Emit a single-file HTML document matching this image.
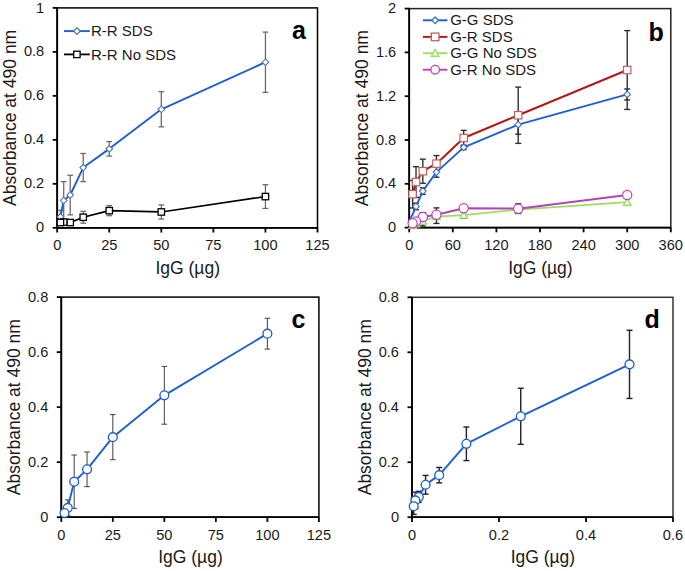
<!DOCTYPE html>
<html><head><meta charset="utf-8"><style>
html,body{margin:0;padding:0;background:#fff;}
body{width:685px;height:571px;overflow:hidden;}
svg{display:block;}
</style></head><body>
<svg width="685" height="571" viewBox="0 0 685 571">
<rect width="685" height="571" fill="#fff"/>
<g font-family='"Liberation Sans", sans-serif' fill="#1a1a1a">
<rect x="57.20" y="7.90" width="260.30" height="219.90" fill="none" stroke="#000" stroke-width="1.5"/>
<line x1="57.20" y1="7.90" x2="57.20" y2="228.70" stroke="#000" stroke-width="1.8"/>
<line x1="56.30" y1="227.80" x2="317.50" y2="227.80" stroke="#000" stroke-width="1.8"/>
<line x1="57.20" y1="227.80" x2="57.20" y2="232.50" stroke="#000" stroke-width="1.8"/>
<line x1="109.26" y1="227.80" x2="109.26" y2="232.50" stroke="#000" stroke-width="1.8"/>
<line x1="161.32" y1="227.80" x2="161.32" y2="232.50" stroke="#000" stroke-width="1.8"/>
<line x1="213.38" y1="227.80" x2="213.38" y2="232.50" stroke="#000" stroke-width="1.8"/>
<line x1="265.44" y1="227.80" x2="265.44" y2="232.50" stroke="#000" stroke-width="1.8"/>
<line x1="317.50" y1="227.80" x2="317.50" y2="232.50" stroke="#000" stroke-width="1.8"/>
<line x1="52.70" y1="227.80" x2="57.20" y2="227.80" stroke="#000" stroke-width="1.8"/>
<line x1="52.70" y1="183.82" x2="57.20" y2="183.82" stroke="#000" stroke-width="1.8"/>
<line x1="52.70" y1="139.84" x2="57.20" y2="139.84" stroke="#000" stroke-width="1.8"/>
<line x1="52.70" y1="95.86" x2="57.20" y2="95.86" stroke="#000" stroke-width="1.8"/>
<line x1="52.70" y1="51.88" x2="57.20" y2="51.88" stroke="#000" stroke-width="1.8"/>
<line x1="52.70" y1="7.90" x2="57.20" y2="7.90" stroke="#000" stroke-width="1.8"/>
<text x="57.20" y="250.30" text-anchor="middle" font-size="14.6">0</text>
<text x="109.26" y="250.30" text-anchor="middle" font-size="14.6">25</text>
<text x="161.32" y="250.30" text-anchor="middle" font-size="14.6">50</text>
<text x="213.38" y="250.30" text-anchor="middle" font-size="14.6">75</text>
<text x="265.44" y="250.30" text-anchor="middle" font-size="14.6">100</text>
<text x="317.50" y="250.30" text-anchor="middle" font-size="14.6">125</text>
<text x="44.20" y="232.40" text-anchor="end" font-size="14.6">0</text>
<text x="44.20" y="188.42" text-anchor="end" font-size="14.6">0.2</text>
<text x="44.20" y="144.44" text-anchor="end" font-size="14.6">0.4</text>
<text x="44.20" y="100.46" text-anchor="end" font-size="14.6">0.6</text>
<text x="44.20" y="56.48" text-anchor="end" font-size="14.6">0.8</text>
<text x="44.20" y="12.50" text-anchor="end" font-size="14.6">1</text>
<text x="187.75" y="273.80" text-anchor="middle" font-size="17.5">IgG (µg)</text>
<text transform="translate(16.20,117.85) rotate(-90)" x="0" y="0" text-anchor="middle" font-size="17.5">Absorbance at 490 nm</text>
<line x1="60.45" y1="210.21" x2="60.45" y2="223.40" stroke="#686868" stroke-width="1.25"/>
<line x1="57.55" y1="210.21" x2="63.35" y2="210.21" stroke="#686868" stroke-width="1.25"/>
<line x1="57.55" y1="223.40" x2="63.35" y2="223.40" stroke="#686868" stroke-width="1.25"/>
<line x1="63.71" y1="181.62" x2="63.71" y2="219.44" stroke="#686868" stroke-width="1.25"/>
<line x1="60.81" y1="181.62" x2="66.61" y2="181.62" stroke="#686868" stroke-width="1.25"/>
<line x1="60.81" y1="219.44" x2="66.61" y2="219.44" stroke="#686868" stroke-width="1.25"/>
<line x1="70.22" y1="175.24" x2="70.22" y2="214.83" stroke="#686868" stroke-width="1.25"/>
<line x1="67.31" y1="175.24" x2="73.12" y2="175.24" stroke="#686868" stroke-width="1.25"/>
<line x1="67.31" y1="214.83" x2="73.12" y2="214.83" stroke="#686868" stroke-width="1.25"/>
<line x1="83.23" y1="153.47" x2="83.23" y2="181.62" stroke="#686868" stroke-width="1.25"/>
<line x1="80.33" y1="153.47" x2="86.13" y2="153.47" stroke="#686868" stroke-width="1.25"/>
<line x1="80.33" y1="181.62" x2="86.13" y2="181.62" stroke="#686868" stroke-width="1.25"/>
<line x1="109.26" y1="141.60" x2="109.26" y2="156.11" stroke="#686868" stroke-width="1.25"/>
<line x1="106.36" y1="141.60" x2="112.16" y2="141.60" stroke="#686868" stroke-width="1.25"/>
<line x1="106.36" y1="156.11" x2="112.16" y2="156.11" stroke="#686868" stroke-width="1.25"/>
<line x1="161.32" y1="91.68" x2="161.32" y2="126.87" stroke="#686868" stroke-width="1.25"/>
<line x1="158.42" y1="91.68" x2="164.22" y2="91.68" stroke="#686868" stroke-width="1.25"/>
<line x1="158.42" y1="126.87" x2="164.22" y2="126.87" stroke="#686868" stroke-width="1.25"/>
<line x1="265.44" y1="32.09" x2="265.44" y2="92.34" stroke="#686868" stroke-width="1.25"/>
<line x1="262.54" y1="32.09" x2="268.34" y2="32.09" stroke="#686868" stroke-width="1.25"/>
<line x1="262.54" y1="92.34" x2="268.34" y2="92.34" stroke="#686868" stroke-width="1.25"/>
<line x1="83.23" y1="211.31" x2="83.23" y2="223.18" stroke="#686868" stroke-width="1.25"/>
<line x1="80.33" y1="211.31" x2="86.13" y2="211.31" stroke="#686868" stroke-width="1.25"/>
<line x1="80.33" y1="223.18" x2="86.13" y2="223.18" stroke="#686868" stroke-width="1.25"/>
<line x1="109.26" y1="205.59" x2="109.26" y2="215.71" stroke="#686868" stroke-width="1.25"/>
<line x1="106.36" y1="205.59" x2="112.16" y2="205.59" stroke="#686868" stroke-width="1.25"/>
<line x1="106.36" y1="215.71" x2="112.16" y2="215.71" stroke="#686868" stroke-width="1.25"/>
<line x1="161.32" y1="204.93" x2="161.32" y2="219.00" stroke="#686868" stroke-width="1.25"/>
<line x1="158.42" y1="204.93" x2="164.22" y2="204.93" stroke="#686868" stroke-width="1.25"/>
<line x1="158.42" y1="219.00" x2="164.22" y2="219.00" stroke="#686868" stroke-width="1.25"/>
<line x1="265.44" y1="184.70" x2="265.44" y2="208.45" stroke="#686868" stroke-width="1.25"/>
<line x1="262.54" y1="184.70" x2="268.34" y2="184.70" stroke="#686868" stroke-width="1.25"/>
<line x1="262.54" y1="208.45" x2="268.34" y2="208.45" stroke="#686868" stroke-width="1.25"/>
<polyline points="58.82,223.40 60.45,216.81 63.71,200.53 70.22,195.03 83.23,167.55 109.26,148.86 161.32,109.27 265.44,62.22" fill="none" stroke="#1d5fd0" stroke-width="1.9" stroke-linejoin="round"/>
<polyline points="58.82,223.40 60.45,222.52 63.71,222.08 70.22,222.52 83.23,217.24 109.26,210.65 161.32,211.97 265.44,196.57" fill="none" stroke="#000" stroke-width="1.7" stroke-linejoin="round"/>
<path d="M265.44,58.92 L268.74,62.22 L265.44,65.52 L262.14,62.22Z" fill="#fff" stroke="#5a7298" stroke-width="1.1"/>
<path d="M161.32,105.97 L164.62,109.27 L161.32,112.57 L158.02,109.27Z" fill="#fff" stroke="#5a7298" stroke-width="1.1"/>
<path d="M109.26,145.56 L112.56,148.86 L109.26,152.16 L105.96,148.86Z" fill="#fff" stroke="#5a7298" stroke-width="1.1"/>
<path d="M83.23,164.25 L86.53,167.55 L83.23,170.85 L79.93,167.55Z" fill="#fff" stroke="#5a7298" stroke-width="1.1"/>
<path d="M70.22,191.73 L73.52,195.03 L70.22,198.33 L66.92,195.03Z" fill="#fff" stroke="#5a7298" stroke-width="1.1"/>
<path d="M63.71,197.23 L67.01,200.53 L63.71,203.83 L60.41,200.53Z" fill="#fff" stroke="#5a7298" stroke-width="1.1"/>
<path d="M60.45,213.50 L63.75,216.81 L60.45,220.11 L57.15,216.81Z" fill="#fff" stroke="#5a7298" stroke-width="1.1"/>
<rect x="262.24" y="193.37" width="6.40" height="6.40" fill="#fff" stroke="#000" stroke-width="1.3"/>
<rect x="158.12" y="208.77" width="6.40" height="6.40" fill="#fff" stroke="#000" stroke-width="1.3"/>
<rect x="106.06" y="207.45" width="6.40" height="6.40" fill="#fff" stroke="#000" stroke-width="1.3"/>
<rect x="80.03" y="214.04" width="6.40" height="6.40" fill="#fff" stroke="#000" stroke-width="1.3"/>
<rect x="67.02" y="219.32" width="6.40" height="6.40" fill="#fff" stroke="#000" stroke-width="1.3"/>
<rect x="60.51" y="218.88" width="6.40" height="6.40" fill="#fff" stroke="#000" stroke-width="1.3"/>
<rect x="57.25" y="219.32" width="6.40" height="6.40" fill="#fff" stroke="#000" stroke-width="1.3"/>
<line x1="64" y1="31.1" x2="89.8" y2="31.1" stroke="#1d5fd0" stroke-width="1.9"/>
<path d="M76.90,27.80 L80.20,31.10 L76.90,34.40 L73.60,31.10Z" fill="#fff" stroke="#5a7298" stroke-width="1.3"/>
<text x="91" y="36.40" font-size="15">R-R SDS</text>
<line x1="64" y1="54.4" x2="89.8" y2="54.4" stroke="#000" stroke-width="1.8"/>
<rect x="73.70" y="51.20" width="6.40" height="6.40" fill="#fff" stroke="#000" stroke-width="1.3"/>
<text x="91" y="59.70" font-size="15">R-R No SDS</text>
<text x="292" y="38.6" font-size="25" font-weight="bold" fill="#000">a</text>
<rect x="409.20" y="8.60" width="261.60" height="219.00" fill="none" stroke="#222" stroke-width="1.5"/>
<line x1="409.20" y1="8.60" x2="409.20" y2="228.50" stroke="#000" stroke-width="1.8"/>
<line x1="408.30" y1="227.60" x2="670.80" y2="227.60" stroke="#000" stroke-width="1.8"/>
<line x1="409.20" y1="227.60" x2="409.20" y2="232.30" stroke="#000" stroke-width="1.8"/>
<line x1="452.80" y1="227.60" x2="452.80" y2="232.30" stroke="#000" stroke-width="1.8"/>
<line x1="496.40" y1="227.60" x2="496.40" y2="232.30" stroke="#000" stroke-width="1.8"/>
<line x1="540.00" y1="227.60" x2="540.00" y2="232.30" stroke="#000" stroke-width="1.8"/>
<line x1="583.60" y1="227.60" x2="583.60" y2="232.30" stroke="#000" stroke-width="1.8"/>
<line x1="627.20" y1="227.60" x2="627.20" y2="232.30" stroke="#000" stroke-width="1.8"/>
<line x1="670.80" y1="227.60" x2="670.80" y2="232.30" stroke="#000" stroke-width="1.8"/>
<line x1="404.70" y1="227.60" x2="409.20" y2="227.60" stroke="#000" stroke-width="1.8"/>
<line x1="404.70" y1="183.80" x2="409.20" y2="183.80" stroke="#000" stroke-width="1.8"/>
<line x1="404.70" y1="140.00" x2="409.20" y2="140.00" stroke="#000" stroke-width="1.8"/>
<line x1="404.70" y1="96.20" x2="409.20" y2="96.20" stroke="#000" stroke-width="1.8"/>
<line x1="404.70" y1="52.40" x2="409.20" y2="52.40" stroke="#000" stroke-width="1.8"/>
<line x1="404.70" y1="8.60" x2="409.20" y2="8.60" stroke="#000" stroke-width="1.8"/>
<text x="409.20" y="250.10" text-anchor="middle" font-size="14.6">0</text>
<text x="452.80" y="250.10" text-anchor="middle" font-size="14.6">60</text>
<text x="496.40" y="250.10" text-anchor="middle" font-size="14.6">120</text>
<text x="540.00" y="250.10" text-anchor="middle" font-size="14.6">180</text>
<text x="583.60" y="250.10" text-anchor="middle" font-size="14.6">240</text>
<text x="627.20" y="250.10" text-anchor="middle" font-size="14.6">300</text>
<text x="670.80" y="250.10" text-anchor="middle" font-size="14.6">360</text>
<text x="396.20" y="232.20" text-anchor="end" font-size="14.6">0</text>
<text x="396.20" y="188.40" text-anchor="end" font-size="14.6">0.4</text>
<text x="396.20" y="144.60" text-anchor="end" font-size="14.6">0.8</text>
<text x="396.20" y="100.80" text-anchor="end" font-size="14.6">1.2</text>
<text x="396.20" y="57.00" text-anchor="end" font-size="14.6">1.6</text>
<text x="396.20" y="13.20" text-anchor="end" font-size="14.6">2</text>
<text x="540.40" y="273.60" text-anchor="middle" font-size="17.5">IgG (µg)</text>
<text transform="translate(368.20,118.10) rotate(-90)" x="0" y="0" text-anchor="middle" font-size="17.5">Absorbance at 490 nm</text>
<line x1="416.01" y1="203.18" x2="416.01" y2="209.75" stroke="#2a2a2a" stroke-width="1.35"/>
<line x1="413.01" y1="203.18" x2="419.01" y2="203.18" stroke="#2a2a2a" stroke-width="1.35"/>
<line x1="413.01" y1="209.75" x2="419.01" y2="209.75" stroke="#2a2a2a" stroke-width="1.35"/>
<line x1="422.82" y1="187.74" x2="422.82" y2="194.31" stroke="#2a2a2a" stroke-width="1.35"/>
<line x1="419.82" y1="187.74" x2="425.82" y2="187.74" stroke="#2a2a2a" stroke-width="1.35"/>
<line x1="419.82" y1="194.31" x2="425.82" y2="194.31" stroke="#2a2a2a" stroke-width="1.35"/>
<line x1="436.45" y1="166.94" x2="436.45" y2="177.23" stroke="#2a2a2a" stroke-width="1.35"/>
<line x1="433.45" y1="166.94" x2="439.45" y2="166.94" stroke="#2a2a2a" stroke-width="1.35"/>
<line x1="433.45" y1="177.23" x2="439.45" y2="177.23" stroke="#2a2a2a" stroke-width="1.35"/>
<line x1="463.70" y1="145.15" x2="463.70" y2="149.53" stroke="#2a2a2a" stroke-width="1.35"/>
<line x1="460.70" y1="145.15" x2="466.70" y2="145.15" stroke="#2a2a2a" stroke-width="1.35"/>
<line x1="460.70" y1="149.53" x2="466.70" y2="149.53" stroke="#2a2a2a" stroke-width="1.35"/>
<line x1="518.20" y1="115.14" x2="518.20" y2="134.20" stroke="#2a2a2a" stroke-width="1.35"/>
<line x1="515.20" y1="115.14" x2="521.20" y2="115.14" stroke="#2a2a2a" stroke-width="1.35"/>
<line x1="515.20" y1="134.20" x2="521.20" y2="134.20" stroke="#2a2a2a" stroke-width="1.35"/>
<line x1="627.20" y1="88.97" x2="627.20" y2="99.92" stroke="#2a2a2a" stroke-width="1.35"/>
<line x1="624.20" y1="88.97" x2="630.20" y2="88.97" stroke="#2a2a2a" stroke-width="1.35"/>
<line x1="624.20" y1="99.92" x2="630.20" y2="99.92" stroke="#2a2a2a" stroke-width="1.35"/>
<line x1="412.61" y1="180.41" x2="412.61" y2="208.00" stroke="#2a2a2a" stroke-width="1.35"/>
<line x1="409.61" y1="180.41" x2="415.61" y2="180.41" stroke="#2a2a2a" stroke-width="1.35"/>
<line x1="409.61" y1="208.00" x2="415.61" y2="208.00" stroke="#2a2a2a" stroke-width="1.35"/>
<line x1="416.01" y1="166.72" x2="416.01" y2="197.38" stroke="#2a2a2a" stroke-width="1.35"/>
<line x1="413.01" y1="166.72" x2="419.01" y2="166.72" stroke="#2a2a2a" stroke-width="1.35"/>
<line x1="413.01" y1="197.38" x2="419.01" y2="197.38" stroke="#2a2a2a" stroke-width="1.35"/>
<line x1="422.82" y1="159.16" x2="422.82" y2="183.25" stroke="#2a2a2a" stroke-width="1.35"/>
<line x1="419.82" y1="159.16" x2="425.82" y2="159.16" stroke="#2a2a2a" stroke-width="1.35"/>
<line x1="419.82" y1="183.25" x2="425.82" y2="183.25" stroke="#2a2a2a" stroke-width="1.35"/>
<line x1="436.45" y1="155.55" x2="436.45" y2="171.75" stroke="#2a2a2a" stroke-width="1.35"/>
<line x1="433.45" y1="155.55" x2="439.45" y2="155.55" stroke="#2a2a2a" stroke-width="1.35"/>
<line x1="433.45" y1="171.75" x2="439.45" y2="171.75" stroke="#2a2a2a" stroke-width="1.35"/>
<line x1="463.70" y1="130.36" x2="463.70" y2="145.69" stroke="#2a2a2a" stroke-width="1.35"/>
<line x1="460.70" y1="130.36" x2="466.70" y2="130.36" stroke="#2a2a2a" stroke-width="1.35"/>
<line x1="460.70" y1="145.69" x2="466.70" y2="145.69" stroke="#2a2a2a" stroke-width="1.35"/>
<line x1="518.20" y1="87.11" x2="518.20" y2="143.39" stroke="#2a2a2a" stroke-width="1.35"/>
<line x1="515.20" y1="87.11" x2="521.20" y2="87.11" stroke="#2a2a2a" stroke-width="1.35"/>
<line x1="515.20" y1="143.39" x2="521.20" y2="143.39" stroke="#2a2a2a" stroke-width="1.35"/>
<line x1="627.20" y1="30.61" x2="627.20" y2="109.45" stroke="#2a2a2a" stroke-width="1.35"/>
<line x1="624.20" y1="30.61" x2="630.20" y2="30.61" stroke="#2a2a2a" stroke-width="1.35"/>
<line x1="624.20" y1="109.45" x2="630.20" y2="109.45" stroke="#2a2a2a" stroke-width="1.35"/>
<line x1="422.82" y1="216.10" x2="422.82" y2="225.96" stroke="#2a2a2a" stroke-width="1.35"/>
<line x1="419.82" y1="216.10" x2="425.82" y2="216.10" stroke="#2a2a2a" stroke-width="1.35"/>
<line x1="419.82" y1="225.96" x2="425.82" y2="225.96" stroke="#2a2a2a" stroke-width="1.35"/>
<line x1="463.70" y1="211.83" x2="463.70" y2="218.40" stroke="#2a2a2a" stroke-width="1.35"/>
<line x1="460.70" y1="211.83" x2="466.70" y2="211.83" stroke="#2a2a2a" stroke-width="1.35"/>
<line x1="460.70" y1="218.40" x2="466.70" y2="218.40" stroke="#2a2a2a" stroke-width="1.35"/>
<line x1="422.82" y1="212.60" x2="422.82" y2="221.36" stroke="#2a2a2a" stroke-width="1.35"/>
<line x1="419.82" y1="212.60" x2="425.82" y2="212.60" stroke="#2a2a2a" stroke-width="1.35"/>
<line x1="419.82" y1="221.36" x2="425.82" y2="221.36" stroke="#2a2a2a" stroke-width="1.35"/>
<line x1="436.45" y1="207.89" x2="436.45" y2="223.44" stroke="#2a2a2a" stroke-width="1.35"/>
<line x1="433.45" y1="207.89" x2="439.45" y2="207.89" stroke="#2a2a2a" stroke-width="1.35"/>
<line x1="433.45" y1="223.44" x2="439.45" y2="223.44" stroke="#2a2a2a" stroke-width="1.35"/>
<line x1="518.20" y1="203.84" x2="518.20" y2="213.47" stroke="#2a2a2a" stroke-width="1.35"/>
<line x1="515.20" y1="203.84" x2="521.20" y2="203.84" stroke="#2a2a2a" stroke-width="1.35"/>
<line x1="515.20" y1="213.47" x2="521.20" y2="213.47" stroke="#2a2a2a" stroke-width="1.35"/>
<polyline points="409.78,219.39 412.61,214.46 416.01,206.47 422.82,191.03 436.45,172.08 463.70,147.34 518.20,124.67 627.20,94.45" fill="none" stroke="#1d5fd0" stroke-width="1.9" stroke-linejoin="round"/>
<path d="M627.20,91.15 L630.50,94.45 L627.20,97.75 L623.90,94.45Z" fill="#fff" stroke="#3a70c0" stroke-width="1.1"/>
<path d="M518.20,121.37 L521.50,124.67 L518.20,127.97 L514.90,124.67Z" fill="#fff" stroke="#3a70c0" stroke-width="1.1"/>
<path d="M463.70,144.04 L467.00,147.34 L463.70,150.64 L460.40,147.34Z" fill="#fff" stroke="#3a70c0" stroke-width="1.1"/>
<path d="M436.45,168.78 L439.75,172.08 L436.45,175.38 L433.15,172.08Z" fill="#fff" stroke="#3a70c0" stroke-width="1.1"/>
<path d="M422.82,187.73 L426.12,191.03 L422.82,194.33 L419.52,191.03Z" fill="#fff" stroke="#3a70c0" stroke-width="1.1"/>
<path d="M416.01,203.17 L419.31,206.47 L416.01,209.77 L412.71,206.47Z" fill="#fff" stroke="#3a70c0" stroke-width="1.1"/>
<polyline points="412.61,194.20 416.01,182.05 422.82,171.21 436.45,163.65 463.70,138.03 518.20,115.25 627.20,70.03" fill="none" stroke="#b01818" stroke-width="2.0" stroke-linejoin="round"/>
<rect x="623.50" y="66.33" width="7.40" height="7.40" fill="#fff" stroke="#c06060" stroke-width="1.2"/>
<rect x="514.50" y="111.55" width="7.40" height="7.40" fill="#fff" stroke="#c06060" stroke-width="1.2"/>
<rect x="460.00" y="134.33" width="7.40" height="7.40" fill="#fff" stroke="#c06060" stroke-width="1.2"/>
<rect x="432.75" y="159.95" width="7.40" height="7.40" fill="#fff" stroke="#c06060" stroke-width="1.2"/>
<rect x="419.12" y="167.51" width="7.40" height="7.40" fill="#fff" stroke="#c06060" stroke-width="1.2"/>
<rect x="412.31" y="178.35" width="7.40" height="7.40" fill="#fff" stroke="#c06060" stroke-width="1.2"/>
<rect x="408.91" y="190.50" width="7.40" height="7.40" fill="#fff" stroke="#c06060" stroke-width="1.2"/>
<polyline points="409.56,226.50 412.61,225.41 416.01,223.77 422.82,221.03 436.45,216.65 463.70,215.12 518.20,209.53 627.20,202.20" fill="none" stroke="#98e060" stroke-width="1.7" stroke-linejoin="round"/>
<path d="M627.20,198.40 L631.00,205.24 L623.40,205.24Z" fill="#fff" stroke="#98e060" stroke-width="1.3"/>
<path d="M518.20,205.73 L522.00,212.57 L514.40,212.57Z" fill="#fff" stroke="#98e060" stroke-width="1.3"/>
<path d="M463.70,211.32 L467.50,218.16 L459.90,218.16Z" fill="#fff" stroke="#98e060" stroke-width="1.3"/>
<path d="M436.45,212.85 L440.25,219.69 L432.65,219.69Z" fill="#fff" stroke="#98e060" stroke-width="1.3"/>
<path d="M422.82,217.23 L426.62,224.07 L419.02,224.07Z" fill="#fff" stroke="#98e060" stroke-width="1.3"/>
<path d="M416.01,219.97 L419.81,226.81 L412.21,226.81Z" fill="#fff" stroke="#98e060" stroke-width="1.3"/>
<path d="M412.61,221.61 L416.41,228.45 L408.81,228.45Z" fill="#fff" stroke="#98e060" stroke-width="1.3"/>
<polyline points="409.56,224.31 412.61,223.22 416.01,221.36 422.82,216.98 436.45,214.79 463.70,208.22 518.20,208.66 627.20,194.97" fill="none" stroke="#b444b4" stroke-width="2.0" stroke-linejoin="round"/>
<circle cx="627.20" cy="194.97" r="4.60" fill="#fff" stroke="#c040c0" stroke-width="1.25"/>
<circle cx="518.20" cy="208.66" r="4.60" fill="#fff" stroke="#c040c0" stroke-width="1.25"/>
<circle cx="463.70" cy="208.22" r="4.60" fill="#fff" stroke="#c040c0" stroke-width="1.25"/>
<circle cx="436.45" cy="214.79" r="4.60" fill="#fff" stroke="#c040c0" stroke-width="1.25"/>
<circle cx="422.82" cy="216.98" r="4.60" fill="#fff" stroke="#c040c0" stroke-width="1.25"/>
<circle cx="416.01" cy="221.36" r="4.60" fill="#fff" stroke="#c040c0" stroke-width="1.25"/>
<circle cx="412.61" cy="223.22" r="4.60" fill="#fff" stroke="#c040c0" stroke-width="1.25"/>
<line x1="422.9" y1="20.3" x2="447.4" y2="20.3" stroke="#1d5fd0" stroke-width="1.9"/>
<path d="M435.15,17.00 L438.45,20.30 L435.15,23.60 L431.85,20.30Z" fill="#fff" stroke="#3a70c0" stroke-width="1.3"/>
<text x="450.2" y="25.30" font-size="15">G-G SDS</text>
<line x1="422.9" y1="36.9" x2="447.4" y2="36.9" stroke="#b01818" stroke-width="1.9"/>
<rect x="431.35" y="33.10" width="7.60" height="7.60" fill="#fff" stroke="#c06060" stroke-width="1.3"/>
<text x="450.2" y="41.90" font-size="15">G-R SDS</text>
<line x1="422.9" y1="53.2" x2="447.4" y2="53.2" stroke="#98e060" stroke-width="1.9"/>
<path d="M435.15,49.40 L438.95,56.24 L431.35,56.24Z" fill="#fff" stroke="#98e060" stroke-width="1.3"/>
<text x="450.2" y="58.20" font-size="15">G-G No SDS</text>
<line x1="422.9" y1="69.7" x2="447.4" y2="69.7" stroke="#b444b4" stroke-width="1.9"/>
<circle cx="435.15" cy="69.70" r="4.30" fill="#fff" stroke="#c040c0" stroke-width="1.3"/>
<text x="450.2" y="74.70" font-size="15">G-R No SDS</text>
<text x="648.5" y="41.2" font-size="25" font-weight="bold" fill="#000">b</text>
<rect x="61.30" y="297.10" width="257.60" height="220.10" fill="none" stroke="#000" stroke-width="1.5"/>
<line x1="61.30" y1="297.10" x2="61.30" y2="518.10" stroke="#000" stroke-width="1.8"/>
<line x1="60.40" y1="517.20" x2="318.90" y2="517.20" stroke="#000" stroke-width="1.8"/>
<line x1="61.30" y1="517.20" x2="61.30" y2="521.90" stroke="#000" stroke-width="1.8"/>
<line x1="112.82" y1="517.20" x2="112.82" y2="521.90" stroke="#000" stroke-width="1.8"/>
<line x1="164.34" y1="517.20" x2="164.34" y2="521.90" stroke="#000" stroke-width="1.8"/>
<line x1="215.86" y1="517.20" x2="215.86" y2="521.90" stroke="#000" stroke-width="1.8"/>
<line x1="267.38" y1="517.20" x2="267.38" y2="521.90" stroke="#000" stroke-width="1.8"/>
<line x1="318.90" y1="517.20" x2="318.90" y2="521.90" stroke="#000" stroke-width="1.8"/>
<line x1="56.80" y1="517.20" x2="61.30" y2="517.20" stroke="#000" stroke-width="1.8"/>
<line x1="56.80" y1="462.18" x2="61.30" y2="462.18" stroke="#000" stroke-width="1.8"/>
<line x1="56.80" y1="407.15" x2="61.30" y2="407.15" stroke="#000" stroke-width="1.8"/>
<line x1="56.80" y1="352.13" x2="61.30" y2="352.13" stroke="#000" stroke-width="1.8"/>
<line x1="56.80" y1="297.10" x2="61.30" y2="297.10" stroke="#000" stroke-width="1.8"/>
<text x="61.30" y="539.70" text-anchor="middle" font-size="14.6">0</text>
<text x="112.82" y="539.70" text-anchor="middle" font-size="14.6">25</text>
<text x="164.34" y="539.70" text-anchor="middle" font-size="14.6">50</text>
<text x="215.86" y="539.70" text-anchor="middle" font-size="14.6">75</text>
<text x="267.38" y="539.70" text-anchor="middle" font-size="14.6">100</text>
<text x="318.90" y="539.70" text-anchor="middle" font-size="14.6">125</text>
<text x="48.30" y="521.80" text-anchor="end" font-size="14.6">0</text>
<text x="48.30" y="466.78" text-anchor="end" font-size="14.6">0.2</text>
<text x="48.30" y="411.75" text-anchor="end" font-size="14.6">0.4</text>
<text x="48.30" y="356.73" text-anchor="end" font-size="14.6">0.6</text>
<text x="48.30" y="301.70" text-anchor="end" font-size="14.6">0.8</text>
<text x="190.50" y="563.20" text-anchor="middle" font-size="17.5">IgG (µg)</text>
<text transform="translate(20.30,407.15) rotate(-90)" x="0" y="0" text-anchor="middle" font-size="17.5">Absorbance at 490 nm</text>
<line x1="67.74" y1="499.87" x2="67.74" y2="515.82" stroke="#484848" stroke-width="1.05"/>
<line x1="64.94" y1="499.87" x2="70.54" y2="499.87" stroke="#484848" stroke-width="1.05"/>
<line x1="64.94" y1="515.82" x2="70.54" y2="515.82" stroke="#484848" stroke-width="1.05"/>
<line x1="74.18" y1="455.02" x2="74.18" y2="508.40" stroke="#484848" stroke-width="1.05"/>
<line x1="71.38" y1="455.02" x2="76.98" y2="455.02" stroke="#484848" stroke-width="1.05"/>
<line x1="71.38" y1="508.40" x2="76.98" y2="508.40" stroke="#484848" stroke-width="1.05"/>
<line x1="87.06" y1="452.00" x2="87.06" y2="486.66" stroke="#484848" stroke-width="1.05"/>
<line x1="84.26" y1="452.00" x2="89.86" y2="452.00" stroke="#484848" stroke-width="1.05"/>
<line x1="84.26" y1="486.66" x2="89.86" y2="486.66" stroke="#484848" stroke-width="1.05"/>
<line x1="112.82" y1="414.58" x2="112.82" y2="459.70" stroke="#484848" stroke-width="1.05"/>
<line x1="110.02" y1="414.58" x2="115.62" y2="414.58" stroke="#484848" stroke-width="1.05"/>
<line x1="110.02" y1="459.70" x2="115.62" y2="459.70" stroke="#484848" stroke-width="1.05"/>
<line x1="164.34" y1="366.43" x2="164.34" y2="424.21" stroke="#484848" stroke-width="1.05"/>
<line x1="161.54" y1="366.43" x2="167.14" y2="366.43" stroke="#484848" stroke-width="1.05"/>
<line x1="161.54" y1="424.21" x2="167.14" y2="424.21" stroke="#484848" stroke-width="1.05"/>
<line x1="267.38" y1="318.28" x2="267.38" y2="349.10" stroke="#484848" stroke-width="1.05"/>
<line x1="264.58" y1="318.28" x2="270.18" y2="318.28" stroke="#484848" stroke-width="1.05"/>
<line x1="264.58" y1="349.10" x2="270.18" y2="349.10" stroke="#484848" stroke-width="1.05"/>
<polyline points="64.52,513.07 67.74,507.85 74.18,481.71 87.06,469.33 112.82,437.14 164.34,395.32 267.38,333.69" fill="none" stroke="#1d5fd0" stroke-width="1.9" stroke-linejoin="round"/>
<circle cx="267.38" cy="333.69" r="4.40" fill="#fff" stroke="#1d5fd0" stroke-width="1.35"/>
<circle cx="164.34" cy="395.32" r="4.40" fill="#fff" stroke="#1d5fd0" stroke-width="1.35"/>
<circle cx="112.82" cy="437.14" r="4.40" fill="#fff" stroke="#1d5fd0" stroke-width="1.35"/>
<circle cx="87.06" cy="469.33" r="4.40" fill="#fff" stroke="#1d5fd0" stroke-width="1.35"/>
<circle cx="74.18" cy="481.71" r="4.40" fill="#fff" stroke="#1d5fd0" stroke-width="1.35"/>
<circle cx="67.74" cy="507.85" r="4.40" fill="#fff" stroke="#1d5fd0" stroke-width="1.35"/>
<circle cx="64.52" cy="513.07" r="4.40" fill="#fff" stroke="#1d5fd0" stroke-width="1.35"/>
<text x="291.5" y="327.6" font-size="25" font-weight="bold" fill="#000">c</text>
<rect x="412.00" y="297.30" width="261.00" height="219.90" fill="none" stroke="#333" stroke-width="1.5"/>
<line x1="412.00" y1="297.30" x2="412.00" y2="518.10" stroke="#000" stroke-width="1.8"/>
<line x1="411.10" y1="517.20" x2="673.00" y2="517.20" stroke="#000" stroke-width="1.8"/>
<line x1="412.00" y1="517.20" x2="412.00" y2="521.90" stroke="#000" stroke-width="1.8"/>
<line x1="499.00" y1="517.20" x2="499.00" y2="521.90" stroke="#000" stroke-width="1.8"/>
<line x1="586.00" y1="517.20" x2="586.00" y2="521.90" stroke="#000" stroke-width="1.8"/>
<line x1="673.00" y1="517.20" x2="673.00" y2="521.90" stroke="#000" stroke-width="1.8"/>
<line x1="407.50" y1="517.20" x2="412.00" y2="517.20" stroke="#000" stroke-width="1.8"/>
<line x1="407.50" y1="462.23" x2="412.00" y2="462.23" stroke="#000" stroke-width="1.8"/>
<line x1="407.50" y1="407.25" x2="412.00" y2="407.25" stroke="#000" stroke-width="1.8"/>
<line x1="407.50" y1="352.28" x2="412.00" y2="352.28" stroke="#000" stroke-width="1.8"/>
<line x1="407.50" y1="297.30" x2="412.00" y2="297.30" stroke="#000" stroke-width="1.8"/>
<text x="412.00" y="539.70" text-anchor="middle" font-size="14.6">0</text>
<text x="499.00" y="539.70" text-anchor="middle" font-size="14.6">0.2</text>
<text x="586.00" y="539.70" text-anchor="middle" font-size="14.6">0.4</text>
<text x="673.00" y="539.70" text-anchor="middle" font-size="14.6">0.6</text>
<text x="399.00" y="521.80" text-anchor="end" font-size="14.6">0</text>
<text x="399.00" y="466.83" text-anchor="end" font-size="14.6">0.2</text>
<text x="399.00" y="411.85" text-anchor="end" font-size="14.6">0.4</text>
<text x="399.00" y="356.88" text-anchor="end" font-size="14.6">0.6</text>
<text x="399.00" y="301.90" text-anchor="end" font-size="14.6">0.8</text>
<text x="542.90" y="563.20" text-anchor="middle" font-size="17.5">IgG (µg)</text>
<text transform="translate(371.00,407.25) rotate(-90)" x="0" y="0" text-anchor="middle" font-size="17.5">Absorbance at 490 nm</text>
<line x1="413.70" y1="497.96" x2="413.70" y2="514.45" stroke="#262626" stroke-width="1.45"/>
<line x1="410.70" y1="497.96" x2="416.70" y2="497.96" stroke="#262626" stroke-width="1.45"/>
<line x1="410.70" y1="514.45" x2="416.70" y2="514.45" stroke="#262626" stroke-width="1.45"/>
<line x1="415.39" y1="492.19" x2="415.39" y2="508.68" stroke="#262626" stroke-width="1.45"/>
<line x1="412.39" y1="492.19" x2="418.39" y2="492.19" stroke="#262626" stroke-width="1.45"/>
<line x1="412.39" y1="508.68" x2="418.39" y2="508.68" stroke="#262626" stroke-width="1.45"/>
<line x1="418.79" y1="491.36" x2="418.79" y2="502.36" stroke="#262626" stroke-width="1.45"/>
<line x1="415.79" y1="491.36" x2="421.79" y2="491.36" stroke="#262626" stroke-width="1.45"/>
<line x1="415.79" y1="502.36" x2="421.79" y2="502.36" stroke="#262626" stroke-width="1.45"/>
<line x1="425.59" y1="475.42" x2="425.59" y2="494.11" stroke="#262626" stroke-width="1.45"/>
<line x1="422.59" y1="475.42" x2="428.59" y2="475.42" stroke="#262626" stroke-width="1.45"/>
<line x1="422.59" y1="494.11" x2="428.59" y2="494.11" stroke="#262626" stroke-width="1.45"/>
<line x1="439.19" y1="467.45" x2="439.19" y2="482.84" stroke="#262626" stroke-width="1.45"/>
<line x1="436.19" y1="467.45" x2="442.19" y2="467.45" stroke="#262626" stroke-width="1.45"/>
<line x1="436.19" y1="482.84" x2="442.19" y2="482.84" stroke="#262626" stroke-width="1.45"/>
<line x1="466.38" y1="427.04" x2="466.38" y2="460.58" stroke="#262626" stroke-width="1.45"/>
<line x1="463.38" y1="427.04" x2="469.38" y2="427.04" stroke="#262626" stroke-width="1.45"/>
<line x1="463.38" y1="460.58" x2="469.38" y2="460.58" stroke="#262626" stroke-width="1.45"/>
<line x1="520.75" y1="388.28" x2="520.75" y2="444.36" stroke="#262626" stroke-width="1.45"/>
<line x1="517.75" y1="388.28" x2="523.75" y2="388.28" stroke="#262626" stroke-width="1.45"/>
<line x1="517.75" y1="444.36" x2="523.75" y2="444.36" stroke="#262626" stroke-width="1.45"/>
<line x1="629.50" y1="330.28" x2="629.50" y2="398.45" stroke="#262626" stroke-width="1.45"/>
<line x1="626.50" y1="330.28" x2="632.50" y2="330.28" stroke="#262626" stroke-width="1.45"/>
<line x1="626.50" y1="398.45" x2="632.50" y2="398.45" stroke="#262626" stroke-width="1.45"/>
<polyline points="413.70,506.21 415.39,500.43 418.79,496.86 425.59,484.76 439.19,475.14 466.38,443.81 520.75,416.32 629.50,364.37" fill="none" stroke="#1d5fd0" stroke-width="1.9" stroke-linejoin="round"/>
<circle cx="629.50" cy="364.37" r="4.40" fill="#fff" stroke="#1d5fd0" stroke-width="1.35"/>
<circle cx="520.75" cy="416.32" r="4.40" fill="#fff" stroke="#1d5fd0" stroke-width="1.35"/>
<circle cx="466.38" cy="443.81" r="4.40" fill="#fff" stroke="#1d5fd0" stroke-width="1.35"/>
<circle cx="439.19" cy="475.14" r="4.40" fill="#fff" stroke="#1d5fd0" stroke-width="1.35"/>
<circle cx="425.59" cy="484.76" r="4.40" fill="#fff" stroke="#1d5fd0" stroke-width="1.35"/>
<circle cx="418.79" cy="496.86" r="4.40" fill="#fff" stroke="#1d5fd0" stroke-width="1.35"/>
<circle cx="415.39" cy="500.43" r="4.40" fill="#fff" stroke="#1d5fd0" stroke-width="1.35"/>
<circle cx="413.70" cy="506.21" r="4.40" fill="#fff" stroke="#1d5fd0" stroke-width="1.35"/>
<text x="644.5" y="328.3" font-size="25" font-weight="bold" fill="#000">d</text>
</g></svg>
</body></html>
